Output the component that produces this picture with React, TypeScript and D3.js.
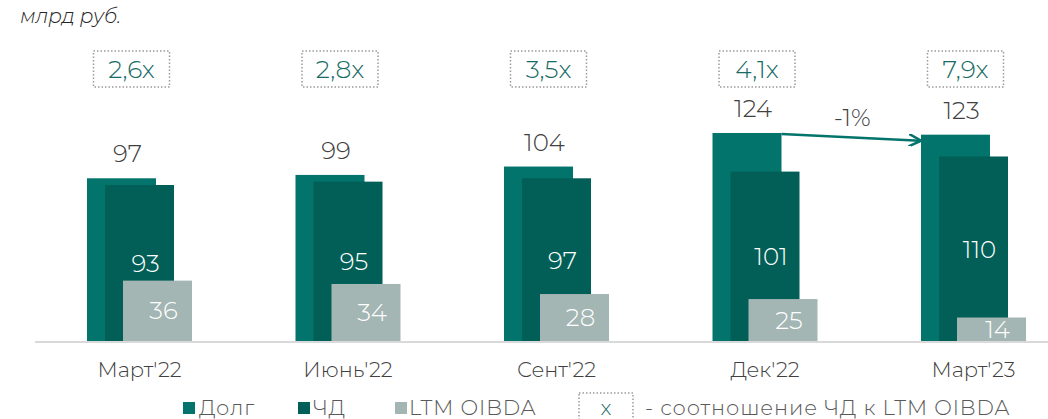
import React from "react";
import * as d3 from "d3";

const categories = ["Март'22", "Июнь'22", "Сент'22", "Дек'22", "Март'23"];
const debt = [97, 99, 104, 124, 123];
const netDebt = [93, 95, 97, 101, 110];
const oibda = [36, 34, 28, 25, 14];
const ratios = ["2,6x", "2,8x", "3,5x", "4,1x", "7,9x"];
const changeLabel = "-1%";

const W = 1048;
const H = 419;
const FONT = "Montserrat, Inter, 'Open Sans', sans-serif";
const C_DEBT = "#02746B";
const C_ND = "#015F57";
const C_OIBDA = "#A3B6B3";
const C_TEXT = "#404040";
const C_RATIO = "#176B64";

export default function App() {
  const x = d3.scalePoint<string>().domain(categories).range([139.5, 973.5]);
  const y = d3.scaleLinear().domain([0, 124]).range([341, 133]);
  const bw = 69;
  const offDebt = -52.5;
  const offNd = -34.5;
  const offOi = -16.5;
  const base = y(0);

  const dIdx = 3;
  const mIdx = 4;
  const ax1 = (x(categories[dIdx]) as number) + offDebt + bw;
  const ay1 = y(debt[dIdx]) + 1;
  const ax2 = (x(categories[mIdx]) as number) + offDebt;
  const ay2 = y(debt[mIdx]) + 6;

  return (
    <svg
      width={W}
      height={H}
      style={{ position: "absolute", left: 0, top: 0, background: "#fff" }}
      fontFamily={FONT}
      fontWeight={300}
    >
      <defs>
        <marker
          id="arr"
          viewBox="0 0 10 10"
          refX="9"
          refY="5"
          markerWidth="5"
          markerHeight="5"
          orient="auto"
          markerUnits="strokeWidth"
        >
          <path d="M0,0 L10,5 L0,10" fill="none" stroke={C_DEBT} strokeWidth="2" />
        </marker>
      </defs>
      <text x={20} y={23} fontSize={20} fontStyle="italic" fill="#262626">
        млрд руб.
      </text>

      {categories.map((c, i) => {
        const cx = x(c) as number;
        const dx = cx + offDebt;
        const nx = cx + offNd;
        const ox = cx + offOi;
        const bx = dx + bw / 2 + 10;
        return (
          <g key={c}>
            <rect x={dx} y={y(debt[i])} width={bw} height={base - y(debt[i])} fill={C_DEBT} />
            <rect x={nx} y={y(netDebt[i])} width={bw} height={base - y(netDebt[i])} fill={C_ND} />
            <rect x={ox} y={y(oibda[i])} width={bw} height={base - y(oibda[i])} fill={C_OIBDA} />
            <text
              x={dx + bw / 2 + 6}
              y={y(debt[i]) - 25 + 9}
              fontSize={24.5}
              textAnchor="middle"
              fill={C_TEXT}
            >
              {debt[i]}
            </text>
            <text
              x={nx + bw / 2 + 6}
              y={(y(netDebt[i]) + base) / 2 + 9}
              fontSize={24.5}
              textAnchor="middle"
              fill="#fff"
            >
              {netDebt[i]}
            </text>
            <text
              x={ox + bw / 2 + 6}
              y={(y(oibda[i]) + base) / 2 + 8.5}
              fontSize={24.5}
              textAnchor="middle"
              fill="#fff"
            >
              {oibda[i]}
            </text>
            <rect
              x={bx - 38}
              y={51}
              width={76}
              height={36}
              fill="none"
              stroke="#9a9a9a"
              strokeWidth={1.5}
              strokeDasharray="1.5 2"
            />
            <text x={bx} y={78} fontSize={25} textAnchor="middle" fill={C_RATIO}>
              {ratios[i]}
            </text>
            <text x={cx} y={377} fontSize={21} textAnchor="middle" fill={C_TEXT}>
              {c}
            </text>
          </g>
        );
      })}

      <line x1={35} x2={W} y1={base + 1} y2={base + 1} stroke="#d9d9d9" strokeWidth={2} />

      <line
        x1={ax1}
        y1={ay1}
        x2={ax2 - 1}
        y2={ay2}
        stroke={C_DEBT}
        strokeWidth={2.5}
        markerEnd="url(#arr)"
      />
      <text x={(ax1 + ax2) / 2 + 1} y={126} fontSize={24} textAnchor="middle" fill={C_TEXT}>
        {changeLabel}
      </text>

      <g fontSize={21} fill="#595959" letterSpacing={0.9}>
        <rect x={183} y={402} width={12} height={12} fill={C_DEBT} />
        <text x={199} y={414.5}>Долг</text>
        <rect x={298} y={402} width={12} height={12} fill={C_ND} />
        <text x={313} y={414.5}>ЧД</text>
        <rect x={395} y={402} width={12} height={12} fill={C_OIBDA} />
        <text x={409} y={414.5}>LTM OIBDA</text>
        <rect
          x={579}
          y={393}
          width={54}
          height={40}
          fill="none"
          stroke="#9a9a9a"
          strokeWidth={1.5}
          strokeDasharray="1.5 2"
        />
        <text x={606} y={414.5} textAnchor="middle" fill={C_RATIO} letterSpacing={0}>
          x
        </text>
        <text x={645} y={414.5}>- соотношение ЧД к LTM OIBDA</text>
      </g>
    </svg>
  );
}
